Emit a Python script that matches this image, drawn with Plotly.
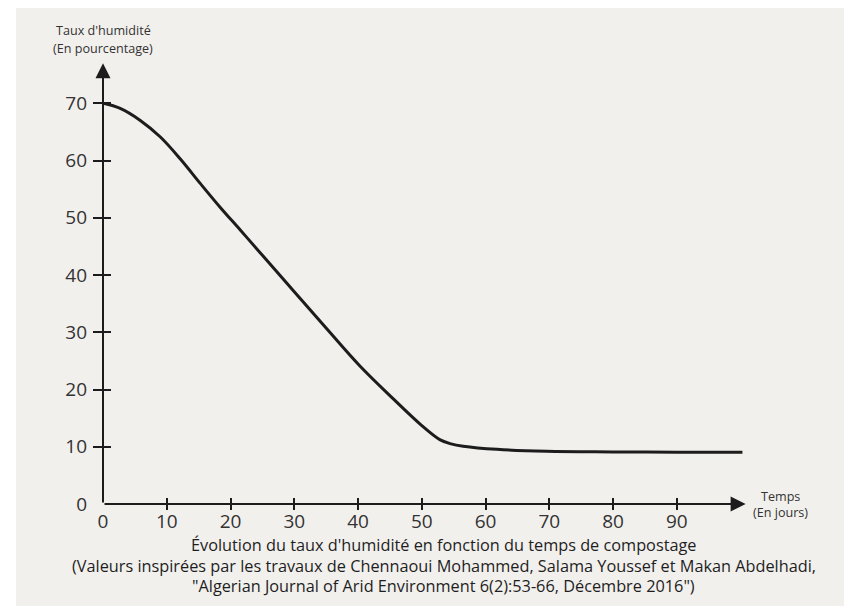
import plotly.graph_objects as go

# ---- data ----
days = [0, 2.7, 5.85, 9.0, 12.1, 15.25, 18.4, 21.5, 24.65, 29.9, 35.1, 40.3, 45.5, 49.7,
        52.9, 54.6, 56.5, 61.8, 69.6, 80, 90, 100.3]
humidity = [70, 69.1, 67.0, 64.1, 60.3, 56.0, 51.8, 47.9, 43.9, 37.2, 30.6, 24.1, 18.4, 14.0,
            11.2, 10.5, 10.1, 9.55, 9.2, 9.1, 9.05, 9.05]
x_tick_vals = [0, 10, 20, 30, 40, 50, 60, 70, 80, 90]
x_tick_marks = [10, 20, 30, 40, 50, 60, 70, 80, 90]
y_tick_vals = [0, 10, 20, 30, 40, 50, 60, 70]
y_tick_marks = [10, 20, 30, 40, 50, 60, 70]
x_range = [0, 104]
y_range = [0, 80]
x_arrow_tip = 100.8
y_arrow_tip = 77

y_title = ["Taux d'humidité", "(En pourcentage)"]
x_title = ["Temps", "(En jours)"]
caption = [
    "Évolution du taux d'humidité en fonction du temps de compostage",
    "(Valeurs inspirées par les travaux de Chennaoui Mohammed, Salama Youssef et Makan Abdelhadi,",
    "\"Algerian Journal of Arid Environment 6(2):53-66, Décembre 2016\")",
]

FONT = "Open Sans"
INK = "#1c1c1c"
TXT = "#333333"
BG = "#f2f0ed"

fig = go.Figure()
fig.add_trace(go.Scatter(x=days, y=humidity, mode="lines",
                         line=dict(color=INK, width=3, shape="spline", smoothing=1.0),
                         hoverinfo="skip", showlegend=False))
# invisible traces to activate overlay axes used for crossing tick marks
for xa, ya in [("x2", "y2"), ("x3", "y3")]:
    fig.add_trace(go.Scatter(x=[days[0]], y=[humidity[0]], xaxis=xa, yaxis=ya, mode="markers",
                             marker=dict(opacity=0), hoverinfo="skip", showlegend=False))

common = dict(showgrid=False, zeroline=False, showline=False)
fig.update_layout(
    width=844, height=598,
    margin=dict(l=95, r=86, t=38, b=102),
    paper_bgcolor=BG, plot_bgcolor="rgba(0,0,0,0)",
    font=dict(family=FONT, color=TXT),
    xaxis=dict(range=x_range, tickvals=x_tick_vals, ticks="", ticklabelstandoff=4,
               tickfont=dict(size=19, color=TXT), **common),
    yaxis=dict(range=y_range, tickvals=y_tick_vals, ticks="", ticklabelstandoff=15,
               tickfont=dict(size=19, color=TXT), **common),
    xaxis2=dict(range=x_range, overlaying="x", anchor="y2", side="bottom", tickvals=x_tick_marks,
                ticks="outside", ticklen=5, tickwidth=2, tickcolor=INK, showticklabels=False, **common),
    yaxis2=dict(range=y_range, overlaying="y", anchor="x2", side="left", tickvals=y_tick_marks,
                ticks="outside", ticklen=9, tickwidth=2, tickcolor=INK, showticklabels=False, **common),
    xaxis3=dict(range=x_range, overlaying="x", anchor="y3", side="bottom", tickvals=x_tick_marks,
                ticks="inside", ticklen=6, tickwidth=2, tickcolor=INK, showticklabels=False, **common),
    yaxis3=dict(range=y_range, overlaying="y", anchor="x3", side="left", tickvals=y_tick_marks,
                ticks="inside", ticklen=8, tickwidth=2, tickcolor=INK, showticklabels=False, **common),
)

# thin white strip at the left edge (scan border)
fig.add_shape(type="rect", xref="paper", yref="paper", x0=-0.15, x1=-0.1312, y0=-0.3, y1=1.2,
              fillcolor="white", line=dict(width=0), layer="below")

# axes with arrows
fig.add_annotation(x=x_arrow_tip, y=0, ax=0, ay=0, xref="x", yref="y", axref="x", ayref="y",
                   text="", showarrow=True, arrowhead=2, arrowsize=1.5, arrowwidth=2, arrowcolor=INK)
fig.add_annotation(x=0, y=y_arrow_tip, ax=0, ay=0, xref="x", yref="y", axref="x", ayref="y",
                   text="", showarrow=True, arrowhead=2, arrowsize=1.5, arrowwidth=2, arrowcolor=INK)

# axis titles
for txt, xp, yp in [(y_title[0], 0.0, 1.0328), (y_title[1], 0.0, 0.9956),
                    (x_title[0], 1.0226, 0.0153), (x_title[1], 1.0226, -0.0175)]:
    fig.add_annotation(x=xp, y=yp, xref="paper", yref="paper", text=txt, showarrow=False,
                       font=dict(size=12.6, color=TXT), xanchor="center", yanchor="middle")

# caption
for txt, yp in zip(caption, [-0.0895, -0.1354, -0.179]):
    fig.add_annotation(x=0.5143, y=yp, xref="paper", yref="paper", text=txt, showarrow=False,
                       font=dict(size=16.3, color="#1e1e1e"), xanchor="center", yanchor="middle")

fig.write_html("out.html")
